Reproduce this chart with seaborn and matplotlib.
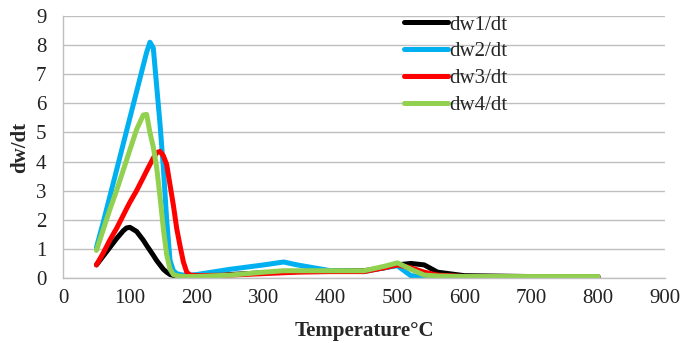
import numpy as np
import pandas as pd
import matplotlib
matplotlib.use("Agg")
import matplotlib.pyplot as plt
import seaborn as sns

temperature = [50, 60, 70, 80, 90, 95, 100, 110, 120, 125, 130, 135, 140, 145, 150, 155, 160, 165, 170, 175, 180, 185, 190,
               200, 250, 300, 330, 350, 400, 450, 480, 500, 520, 540, 560, 600, 700, 800]
dw1 = [0.45, 0.75, 1.05, 1.35, 1.62, 1.72, 1.74, 1.6, 1.3, 1.12, 0.95, 0.78, 0.6, 0.45, 0.3, 0.2, 0.12, 0.09, 0.07, 0.06, 0.06, 0.06, 0.06,
       0.07, 0.12, 0.18, 0.2, 0.22, 0.25, 0.25, 0.35, 0.45, 0.5, 0.45, 0.2, 0.08, 0.05, 0.04]
dw2 = [1.05, 1.9, 2.8, 3.7, 4.6, 5.05, 5.5, 6.4, 7.3, 7.75, 8.1, 7.9, 6.6, 5.3, 3.8, 2.0, 0.6, 0.25, 0.15, 0.12, 0.1, 0.1, 0.1,
       0.12, 0.3, 0.45, 0.55, 0.45, 0.25, 0.22, 0.35, 0.42, 0.08, 0.05, 0.05, 0.05, 0.03, 0.02]
dw3 = [0.45, 0.85, 1.3, 1.7, 2.15, 2.38, 2.6, 3.0, 3.45, 3.68, 3.9, 4.12, 4.3, 4.35, 4.2, 3.9, 3.2, 2.5, 1.7, 1.1, 0.55, 0.2, 0.1,
       0.08, 0.1, 0.15, 0.18, 0.2, 0.22, 0.22, 0.35, 0.45, 0.35, 0.2, 0.1, 0.05, 0.04, 0.04]
dw4 = [0.95, 1.65, 2.35, 3.0, 3.7, 4.05, 4.4, 5.1, 5.6, 5.62, 5.0, 4.5, 3.8, 2.8, 1.7, 0.8, 0.3, 0.12, 0.08, 0.06, 0.05, 0.05, 0.05,
       0.05, 0.1, 0.2, 0.25, 0.25, 0.25, 0.25, 0.4, 0.52, 0.3, 0.1, 0.07, 0.05, 0.05, 0.05]
series_names = ["dw1/dt", "dw2/dt", "dw3/dt", "dw4/dt"]
colors = ["#000000", "#00B0F0", "#FF0000", "#92D050"]
x_ticks = [0, 100, 200, 300, 400, 500, 600, 700, 800, 900]
y_ticks = [0, 1, 2, 3, 4, 5, 6, 7, 8, 9]

frames = []
for name, vals in zip(series_names, [dw1, dw2, dw3, dw4]):
    frames.append(pd.DataFrame({"Temperature": temperature, "value": vals, "series": name}))
df = pd.concat(frames, ignore_index=True)

sns.set_theme(style="white")
plt.rcParams["font.family"] = ["Liberation Serif", "DejaVu Serif"]

fig = plt.figure(figsize=(6.82, 3.43), dpi=100)
ax = fig.add_axes([63/682, 1-278/343, (665-63)/682, (278-16)/343])

sns.lineplot(data=df, x="Temperature", y="value", hue="series",
             palette=dict(zip(series_names, colors)), linewidth=3.6, ax=ax,
             legend=True)
for line in ax.get_lines():
    line.set_solid_joinstyle("round")
    line.set_solid_capstyle("round")

ax.set_xlim(0, 900)
ax.set_ylim(0, 9)
ax.set_xticks(x_ticks)
ax.set_yticks(y_ticks)
ax.tick_params(axis="x", labelsize=15, length=0, pad=8, colors="#222222")
ax.tick_params(axis="y", labelsize=15, length=0, pad=12, colors="#222222")
ax.grid(axis="y", color="#bfbfbf", linewidth=1)
ax.grid(axis="x", visible=False)
for s in ["top", "right"]:
    ax.spines[s].set_visible(False)
for s in ["left", "bottom"]:
    ax.spines[s].set_color("#bfbfbf")
    ax.spines[s].set_linewidth(1)

ax.set_xlabel("Temperature\u00b0C", fontsize=15, fontweight="bold", labelpad=9)
ax.set_ylabel("dw/dt", fontsize=15, fontweight="bold", labelpad=4)

handles, labels = ax.get_legend_handles_labels()
leg = ax.legend(handles, labels, loc="upper left", frameon=False,
                bbox_to_anchor=(404/682, 1-15/343), bbox_transform=fig.transFigure,
                fontsize=15, handlelength=2.1, handletextpad=0.05,
                labelspacing=0.35, borderpad=0, borderaxespad=0)
for line in leg.get_lines():
    line.set_linewidth(3.6)

fig.savefig("out.png", dpi=100)
